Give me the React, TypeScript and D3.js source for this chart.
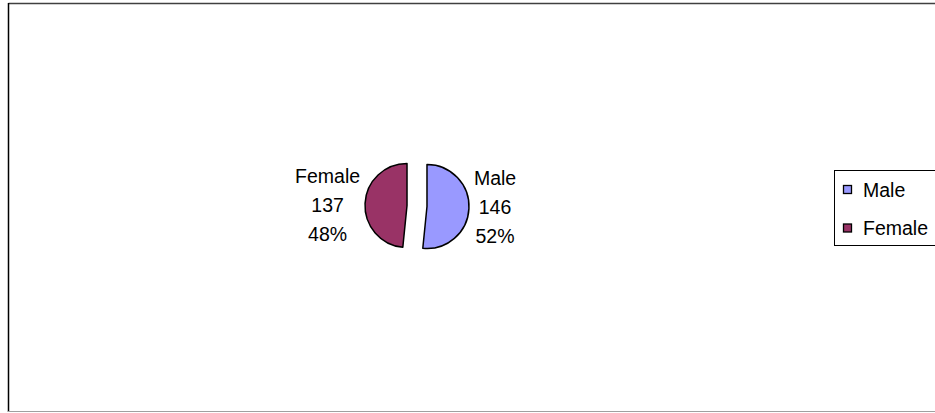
import React from "react";
import * as d3 from "d3";

const categories = ["Male", "Female"];
const counts = [146, 137];
const percents = ["52%", "48%"];
const colors = ["#9999FF", "#993366"];

const W = 960;
const H = 413;
const FONT = "'Liberation Sans', Arial, sans-serif";
const FS = 19.5;

function textWidth(t: string): number {
  if (typeof document === "undefined") return t.length * 10;
  const c = document.createElement("canvas").getContext("2d");
  if (!c) return t.length * 10;
  c.font = `${FS}px 'Liberation Sans'`;
  return c.measureText(t).width;
}

export default function App() {
  const cx = 417;
  const cy = 206;
  const r = 42;
  const explode = 10;
  const pie = d3.pie<number>().sort(null).startAngle(0).endAngle(2 * Math.PI);
  const arcs = pie(counts);
  const arc = d3.arc<d3.PieArcDatum<number>>().innerRadius(0).outerRadius(r);

  return (
    <svg
      width={W}
      height={H}
      style={{ position: "absolute", left: 0, top: 0, background: "#fff" }}
    >
      {/* outer chart border */}
      <line x1={8.5} y1={3.5} x2={W} y2={3.5} stroke="#404040" strokeWidth={1.5} />
      <line x1={8.5} y1={3} x2={8.5} y2={412} stroke="#000" strokeWidth={1.5} />
      <line x1={8} y1={411.5} x2={W} y2={411.5} stroke="#a0a0a0" strokeWidth={1.2} />

      {arcs.map((a, i) => {
        const mid = (a.startAngle + a.endAngle) / 2;
        const dx = Math.sin(mid);
        const dy = -Math.cos(mid);
        const px = cx + dx * explode;
        const py = cy + dy * explode;
        const lines = [categories[i], String(counts[i]), percents[i]];
        const w = Math.max(...lines.map(textWidth));
        const gap = 5;
        const lx = cx + dx * (explode + r + gap + w / 2);
        const ly = cy + 7 + dy * 30;
        return (
          <g key={categories[i]}>
            <path
              d={arc(a) || ""}
              transform={`translate(${px},${py})`}
              fill={colors[i]}
              stroke="#000"
              strokeWidth={1.5}
              strokeLinejoin="round"
            />
            <text
              x={lx}
              y={ly}
              textAnchor="middle"
              fontFamily={FONT}
              fontSize={FS}
              fill="#000"
            >
              {lines.map((t, j) => (
                <tspan key={j} x={lx} y={ly + (j - 1) * 29}>
                  {t}
                </tspan>
              ))}
            </text>
          </g>
        );
      })}

      {/* legend */}
      <g>
        <rect x={834.5} y={170.5} width={130} height={75} fill="#fff" stroke="#000" strokeWidth={1} />
        {categories.map((c, i) => (
          <g key={c} transform={`translate(0,${i * 38.5})`}>
            <rect x={843.5} y={185.5} width={8} height={8} fill={colors[i]} stroke="#000" strokeWidth={1.3} />
            <text x={863} y={196.7} fontFamily={FONT} fontSize={FS} fill="#000">
              {c}
            </text>
          </g>
        ))}
      </g>
    </svg>
  );
}
